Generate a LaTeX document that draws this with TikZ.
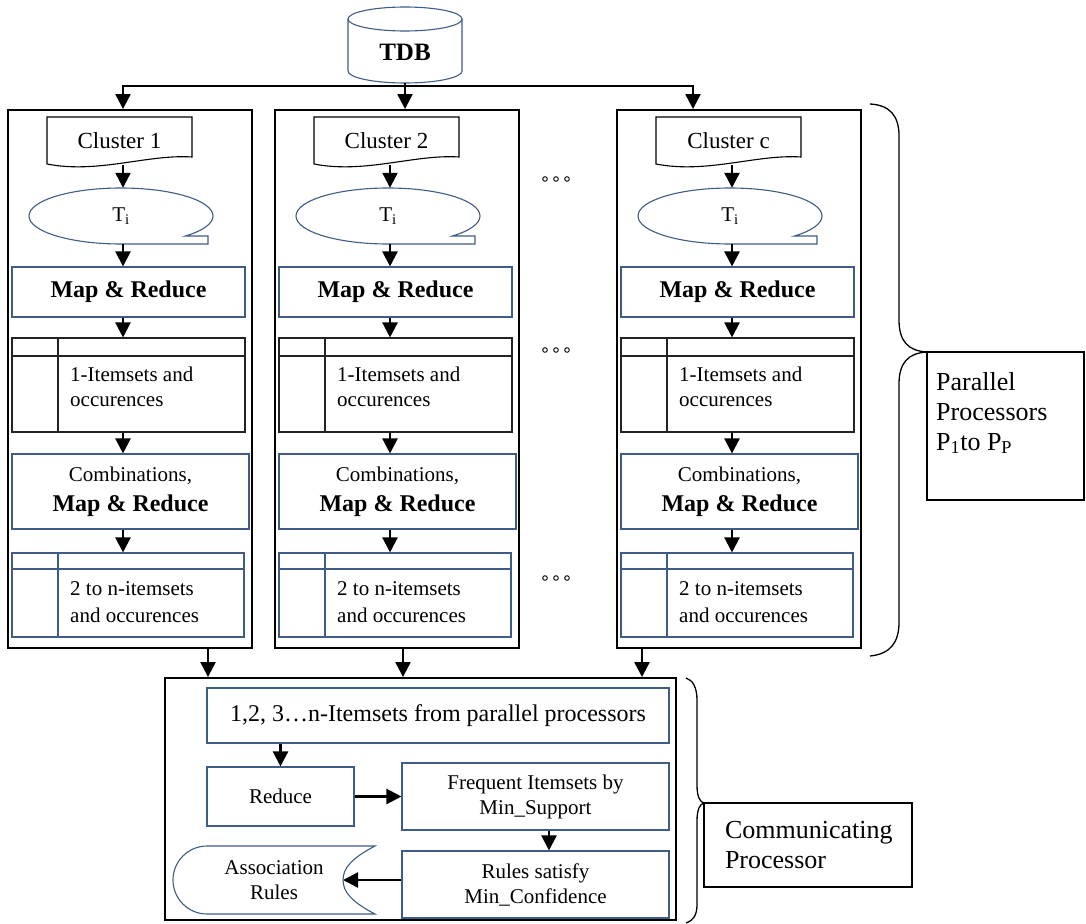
\documentclass[tikz,border=0pt]{standalone}
\usepackage{fontspec}
\setmainfont{Liberation Serif}
\usetikzlibrary{arrows.meta}
\definecolor{bblue}{RGB}{62,92,134}
\definecolor{tgray}{RGB}{35,35,35}
\newcommand\nsz{\fontsize{21}{25}\selectfont\mdseries}
\newcommand\bsz{\fontsize{24}{29}\selectfont\bfseries}
\newcommand\lsz{\fontsize{26}{30}\selectfont}
\begin{document}
\begin{tikzpicture}[x=1pt,y=-1pt,
  arr/.style={-{Triangle[length=15pt,width=15pt]},line width=2.3pt},
  ln/.style={line width=2.3pt},
  outer/.style={draw=black,line width=1.9pt,inner sep=0pt},
  ibox/.style={draw=bblue,line width=1.1pt,inner sep=0pt,align=center},
  plain/.style={inner sep=0pt,align=center},
  shp/.style={line width=1.1pt},
  brace/.style={line width=1.3pt},
]
\useasboundingbox (0,0) rectangle (1086,923);

% TDB
\node[plain,font=\fontsize{25}{30}\selectfont\bfseries,minimum width=114pt,minimum height=62pt] (tdb) at (405,52) {TDB};
\draw[shp,bblue] (348,19) -- (348,71) arc[start angle=180,end angle=0,x radius=57,y radius=12] -- (462,19);
\draw[shp,bblue] (405,19) ellipse [x radius=57,y radius=12];
\coordinate (jl) at (123,86);
\coordinate (jr) at (693,86);
\draw[ln] (tdb.south) -- (tdb.south |- jl);
\draw[ln,line cap=rect] (jl) -- (jr);

% communicating processor block
\node[outer,minimum width=511pt,minimum height=242pt] (bot) at (420.5,799) {};
\node[ibox,font=\fontsize{24}{28}\selectfont,minimum width=462pt,minimum height=55pt] (items) at (438,715.5) {1,2, 3…n-Itemsets from parallel processors};
\node[ibox,font=\nsz,minimum width=147pt,minimum height=59pt] (red) at (280.5,796.5) {Reduce};
\node[ibox,font=\fontsize{21}{25}\selectfont,minimum width=267pt,minimum height=67pt] (freq) at (535.5,796.5) {Frequent Itemsets by\\Min\_Support};
\node[ibox,font=\fontsize{21}{25}\selectfont,minimum width=267pt,minimum height=67pt] (rules) at (535.5,884.5) {Rules satisfy\\Min\_Confidence};
\node[plain,font=\fontsize{21}{25}\selectfont,minimum width=202pt,minimum height=68pt] (ar) at (274,880) {Association\\Rules};
\draw[shp,bblue] (207,846) arc[start angle=270,end angle=90,x radius=34,y radius=34] -- (375,914) .. controls (352,902) and (343,892) .. (343,880) .. controls (343,868) and (352,858) .. (375,846) -- cycle;
\coordinate (arT) at (343,880);
\coordinate (fx) at (549,0);
\draw[arr] (items.south -| red.north) -- (red.north);
\draw[arr] (red.east) -- (red.east -| freq.west);
\draw[arr] (fx |- freq.south) -- (fx |- rules.north);
\draw[arr] (rules.west |- arT) -- (arT);

% columns
\foreach \i/\L/\lab/\tx/\ox in {1/8/1/123/208,2/275/2/405/403,3/617/c/693/642}{
  \node[outer,minimum width=244pt,minimum height=538pt] (col\i) at ({\L+122},379) {};
  \coordinate (ax\i) at ({\L+115},0);
  \coordinate (tx\i) at (\tx,0);
  \coordinate (ox\i) at (\ox,0);
  \draw[arr] (tx\i |- jl) -- (tx\i |- col\i.north);
  % cluster document
  \node[plain,font=\fontsize{23}{27}\selectfont,minimum width=145pt,minimum height=48pt] (doc\i) at ({\L+111.5},141) {Cluster \lab};
  \draw[shp] ({\L+39},117) -- ({\L+184},117) -- ({\L+184},157) .. controls ({\L+140},154) and ({\L+90},174) .. ({\L+39},164) -- cycle;
  % sequential tape Ti
  \node[plain,font=\nsz,minimum width=184pt,minimum height=56pt] (ell\i) at ({\L+113},216) {T\textsubscript{i}};
  \draw[shp,bblue] ({\L+113},244) arc[start angle=90,end angle=405.6,x radius=92,y radius=28] -- ({\L+200},236) -- ({\L+200},244) -- cycle;
  % map & reduce
  \node[ibox,font=\bsz,minimum width=233pt,minimum height=50pt] (map\i) at ({\L+120.5},292) {Map \& Reduce};
  % table 1
  \node[draw=tgray,line width=1.1pt,inner sep=0pt,minimum width=233pt,minimum height=94pt] (ta\i) at ({\L+120.5},385) {};
  \draw[shp,tgray] ({\L+4},356) -- ({\L+237},356) ({\L+50},338) -- ({\L+50},432);
  \node[plain,font=\nsz,anchor=west,align=left] (tat\i) at ({\L+62},387) {1-Itemsets and\\occurences};
  % combinations
  \node[ibox,font=\bsz,minimum width=237pt,minimum height=75pt] (cb\i) at ({\L+122.5},491.5) {{\nsz Combinations,}\\[1pt]Map \& Reduce};
  % table 2
  \node[draw=bblue,line width=1.1pt,inner sep=0pt,minimum width=232pt,minimum height=84pt] (tb\i) at ({\L+120},595) {};
  \draw[shp,bblue] ({\L+4},569) -- ({\L+236},569) ({\L+50},553) -- ({\L+50},637);
  \node[plain,font=\fontsize{21}{27}\selectfont,anchor=west,align=left] (tbt\i) at ({\L+62},602) {2 to n-itemsets\\and occurences};
  % arrows
  \draw[arr] (ax\i |- doc\i.south) -- (ax\i |- ell\i.north);
  \draw[arr] (ax\i |- ell\i.south) -- (ax\i |- map\i.north);
  \draw[arr] (ax\i |- map\i.south) -- (ax\i |- ta\i.north);
  \draw[arr] (ax\i |- ta\i.south) -- (ax\i |- cb\i.north);
  \draw[arr] (ax\i |- cb\i.south) -- (ax\i |- tb\i.north);
  \draw[arr] (ox\i |- col\i.south) -- (ox\i |- bot.north);
}

% ellipsis dots
\foreach \yy in {179,350,578}{
  \foreach \xx in {545,556,567}{
    \draw[line width=0.9pt] (\xx,\yy) circle[radius=2.3];
  }
}

% braces
\draw[brace] (870,104) .. controls (890,105) and (899,116) .. (899,136) -- (899,320) .. controls (899,341) and (908,351) .. (927,352) .. controls (908,353) and (899,363) .. (899,384) -- (899,622) .. controls (899,643) and (890,654) .. (870,656);
\draw[brace] (686,678) .. controls (693,680) and (697,688) .. (697,700) -- (697,785) .. controls (697,797) and (700,802) .. (704,803) .. controls (700,804) and (697,809) .. (697,821) -- (697,905) .. controls (697,915) and (693,921) .. (686,923);

% labels
\node[draw,line width=1.2pt,minimum width=157pt,minimum height=148pt,inner sep=0pt] (par) at (1005.5,426) {};
\node[plain,font=\lsz,anchor=west,align=left] (part) at (936,413) {Parallel\\Processors\\P\textsubscript{1}to P\textsubscript{P}};
\node[draw,line width=1.2pt,font=\lsz,align=left,text width=166pt,inner xsep=21pt,inner ysep=0pt,minimum height=84pt] (comm) at (808,845) {Communicating\\Processor};
\end{tikzpicture}
\end{document}
